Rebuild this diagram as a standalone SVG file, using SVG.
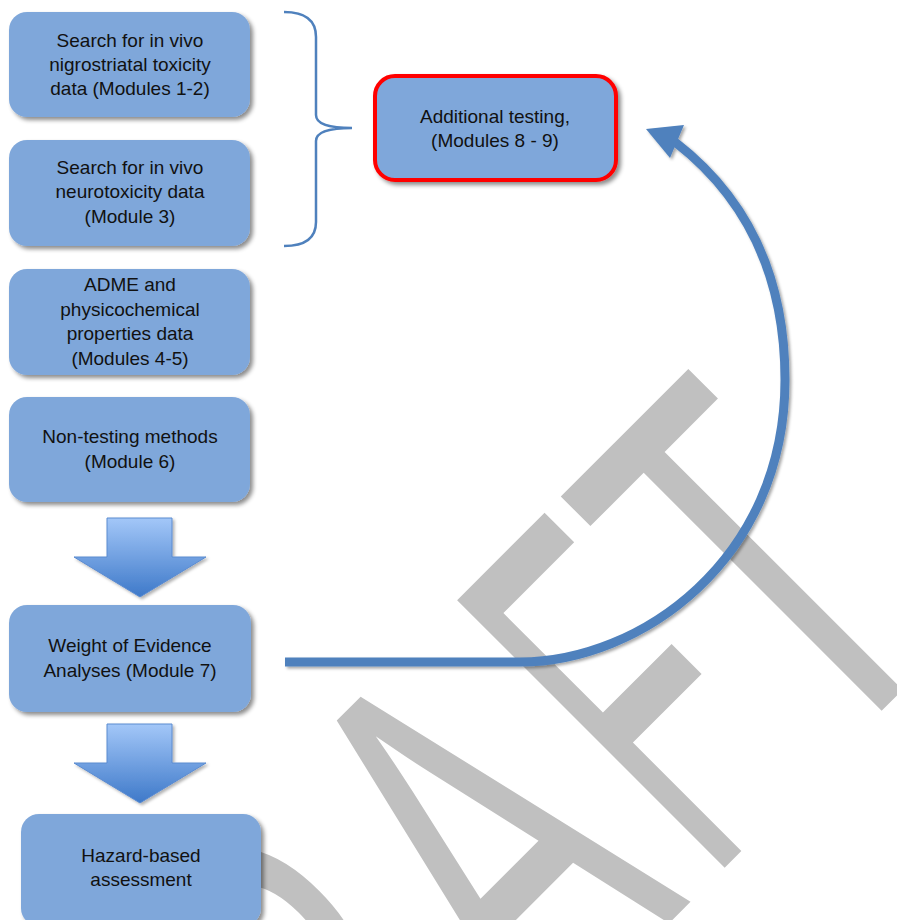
<svg xmlns="http://www.w3.org/2000/svg" width="897" height="920" viewBox="0 0 897 920">
<defs>
<style>
.box{fill:#7fa7da;filter:url(#sh)}
.red{fill:#7fa7da;stroke:#ff0000;stroke-width:4;filter:url(#sh)}
.t{font-family:"Liberation Sans",Arial,sans-serif;font-size:19px;fill:#111;text-anchor:middle}
.blk{fill:url(#g);stroke:#5b8bd0;stroke-width:1;filter:url(#sh2)}
.wm{font-family:"Liberation Sans",Arial,sans-serif;font-size:550px;fill:#c0c0c0;text-anchor:middle}
</style>
<filter id="sh" x="-10%" y="-10%" width="130%" height="130%">
<feDropShadow dx="3" dy="3" stdDeviation="2" flood-color="#000" flood-opacity="0.45"/>
</filter>
<filter id="sh2" x="-10%" y="-10%" width="130%" height="130%">
<feDropShadow dx="2" dy="2" stdDeviation="1.5" flood-color="#000" flood-opacity="0.3"/>
</filter>
<filter id="sh3" x="-10%" y="-10%" width="130%" height="130%">
<feDropShadow dx="2" dy="2" stdDeviation="1.5" flood-color="#000" flood-opacity="0.35"/>
</filter>
<linearGradient id="g" x1="0" y1="0" x2="0" y2="1">
<stop offset="0" stop-color="#a3c7f8"/>
<stop offset="1" stop-color="#3e79c9"/>
</linearGradient>
</defs>
<rect width="897" height="920" fill="#fff"/>
<g id="watermark">
<text class="wm" transform="rotate(-45) scale(0.58,1)" x="-1248 -855 -440" y="1126">DRA</text>
<text class="wm" transform="rotate(-45) scale(0.46,1)" x="-97" y="1126">F</text>
<text class="wm" transform="rotate(-45) scale(0.58,1)" x="234" y="1126">T</text>
</g>
<g id="connectors">
<path d="M284,12 C305,12 316,20 316,37 L316,115 C316,124 330,128 352,128 C330,128 316,132 316,141 L316,222 C316,238 305,246 284,246" fill="none" stroke="#4f81bd" stroke-width="2.5"/>
<g filter="url(#sh3)">
<path d="M285,662 L520,662 C640,662 785,560 785,380 C785,280 750,200 675,142" fill="none" stroke="#4f81bd" stroke-width="9"/>
<polygon points="646,129 684,125 670,158" fill="#4f81bd"/>
</g>
<path class="blk" d="M107,518 H172 V557 H206 L140,597 L74,557 H107 Z"/>
<path class="blk" d="M107,724 H172 V763 H206 L140,803 L74,763 H107 Z"/>
</g>
<g id="n1">
<rect class="box" x="9" y="12" width="241" height="105" rx="18"/>
<text class="t" x="130" y="47">Search for in vivo</text>
<text class="t" x="130" y="71">nigrostriatal toxicity</text>
<text class="t" x="130" y="95">data (Modules 1-2)</text>
</g>
<g id="n2">
<rect class="box" x="9" y="140" width="241" height="106" rx="18"/>
<text class="t" x="130" y="174">Search for in vivo</text>
<text class="t" x="130" y="198">neurotoxicity data</text>
<text class="t" x="130" y="223">(Module 3)</text>
</g>
<g id="n3">
<rect class="box" x="9" y="269" width="241" height="106" rx="18"/>
<text class="t" x="130" y="291">ADME and</text>
<text class="t" x="130" y="316">physicochemical</text>
<text class="t" x="130" y="340">properties data</text>
<text class="t" x="130" y="365">(Modules 4-5)</text>
</g>
<g id="n4">
<rect class="box" x="9" y="397" width="241" height="105" rx="18"/>
<text class="t" x="130" y="443">Non-testing methods</text>
<text class="t" x="130" y="468">(Module 6)</text>
</g>
<g id="n5">
<rect class="box" x="9" y="605" width="242" height="107" rx="18"/>
<text class="t" x="130" y="652">Weight of Evidence</text>
<text class="t" x="130" y="677">Analyses (Module 7)</text>
</g>
<g id="n6">
<rect class="box" x="21" y="814" width="240" height="112" rx="18"/>
<text class="t" x="141" y="862">Hazard-based</text>
<text class="t" x="141" y="886">assessment</text>
</g>
<g id="n7">
<rect class="red" x="375" y="76" width="241" height="104" rx="20"/>
<text class="t" x="495" y="123">Additional testing,</text>
<text class="t" x="495" y="147">(Modules 8 - 9)</text>
</g>
</svg>
